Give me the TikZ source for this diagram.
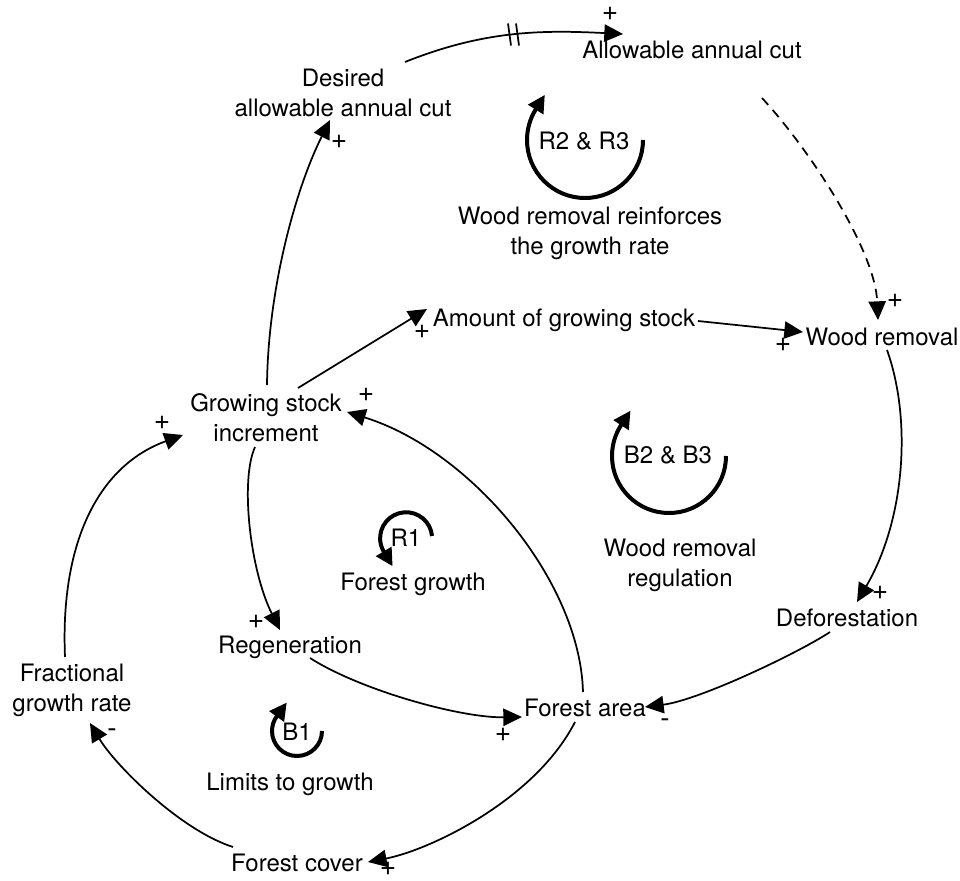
\documentclass[tikz,border=0pt]{standalone}
\usepackage{fontspec}
\setmainfont{TeX Gyre Heros}
\usetikzlibrary{arrows.meta,calc}

\begin{document}
\begin{tikzpicture}[x=0.75pt,y=-0.75pt,
  var/.style={font=\fontsize{18}{22.5}\selectfont, align=center, inner sep=0pt},
  sgn/.style={font=\fontsize{21}{23}\selectfont, inner sep=0pt},
  link/.style={line width=1.3pt, -{Triangle[length=14pt,width=13pt]}},
  delay/.style={link, dash pattern=on 7pt off 5pt},
  loopsym/.style={line width=3pt, -{Triangle[length=13pt,width=13pt]}},
]
\fill[white] (0,0) rectangle (960,881);
\useasboundingbox (0,0) rectangle (960,881);

% variables
\node[var] (aac)   at (692,50)  {Allowable annual cut};
\node[var] (dac)   at (343,93)  {Desired\\allowable annual cut};
\node[var] (amt)   at (564,320) {Amount of growing stock};
\node[var] (wr)    at (882,337) {Wood removal};
\node[var] (gsi)   at (266,418) {Growing stock\\increment};
\node[var] (def)   at (847,618) {Deforestation};
\node[var] (regen) at (290,647) {Regeneration};
\node[var] (frac)  at (72,690)  {Fractional\\growth rate};
\node[var] (fa)    at (585,708) {Forest area};
\node[var] (fc)    at (297,863) {Forest cover};

% loop identifiers and names
\node[var] (r23)     at (584,141) {R2 \& R3};
\node[var] (r23name) at (590,233) {Wood removal reinforces\\the growth rate};
\node[var] (b23)     at (668,455) {B2 \& B3};
\node[var] (b23name) at (680,565) {Wood removal\\regulation};
\node[var] (r1)      at (406,538) {R1};
\node[var] (r1name)  at (413,584) {Forest growth};
\node[var] (b1)      at (297,732) {B1};
\node[var] (b1name)  at (290,784) {Limits to growth};

% loop symbols: an arc, then a short tangent run carrying the tip
\draw[loopsym] ($(r23)+(59,-1)$) arc[start angle=0, end angle=212, radius=58] -- ++(9,-14.4);
\draw[loopsym] ($(b23)+(58,1)$) arc[start angle=0, end angle=213, radius=57] -- ++(9.3,-14.3);
\draw[loopsym] ($(r1)+(26,-2)$) arc[start angle=-5, end angle=-211, radius=26] -- ++(8.8,14.6);
\draw[loopsym] ($(b1)+(25,-1)$) arc[start angle=0, end angle=216, radius=25] -- ++(10,-13.8);

% causal links
\draw[link] ($(dac)+(62,-31)$) .. controls +(80,-32) and +(-80,-4) .. ($(aac)+(-69,-16)$) coordinate[pos=0.5] (dly);
\draw[line width=1.3pt] ($(dly)+(-6,-11)$) -- ($(dly)+(-3,11)$);
\draw[line width=1.3pt] ($(dly)+(2,-11)$) -- ($(dly)+(5,11)$);

\draw[delay] ($(aac)+(70,48)$) .. controls +(48,52) and +(-3,-70) .. ($(wr)+(-4,-17)$);
\draw[link] ($(gsi)+(1,-33)$) .. controls +(1,-95) and +(-35,70) .. ($(dac)+(-13,27)$);
\draw[link] ($(gsi)+(32,-30)$) -- ($(amt)+(-137,-11)$);
\draw[link] ($(amt)+(134,1)$) -- ($(wr)+(-79,-5)$);
\draw[link] ($(wr)+(5,13)$) .. controls +(25,70) and +(48,-82) .. ($(def)+(10,-16)$);
\draw[link] ($(def)+(-17,14)$) .. controls +(-30,20) and +(55,-7) .. ($(fa)+(60,-1)$);
\draw[link] ($(fa)+(-2,-16)$) .. controls +(-3,-112) and +(123,38) .. ($(gsi)+(81,-6)$);
\draw[link] ($(gsi)+(-11,29)$) .. controls +(-15,33) and +(-30,-60) .. ($(regen)+(-10,-17)$);
\draw[link] ($(regen)+(20,11)$) .. controls +(50,32) and +(-62,1) .. ($(fa)+(-63,9)$);
\draw[link] ($(fa)+(-10,14)$) .. controls +(-40,78) and +(62,-12) .. ($(fc)+(71,-1)$);
\draw[link] ($(fc)+(-64,-16)$) .. controls +(-53,-17) and +(25,42) .. ($(frac)+(18,33)$);
\draw[link] ($(frac)+(-7,-33)$) .. controls +(-5,-117) and +(-83,30) .. ($(gsi)+(-83,17)$);

% polarities
\node[sgn] (p1)  at (610,14)  {+};
\node[sgn] (p2)  at (339,142) {+};
\node[sgn] (p3)  at (422,332) {+};
\node[sgn] (p4)  at (366,395) {+};
\node[sgn] (p5)  at (783,345) {+};
\node[sgn] (p6)  at (895,301) {+};
\node[sgn] (p7)  at (880,593) {+};
\node[sgn] (p8)  at (665,723) {-};
\node[sgn] (p9)  at (503,735) {+};
\node[sgn] (p10) at (388,869) {+};
\node[sgn] (p11) at (112,733) {-};
\node[sgn] (p12) at (162,423) {+};
\node[sgn] (p13) at (256,622) {+};
\end{tikzpicture}
\end{document}
